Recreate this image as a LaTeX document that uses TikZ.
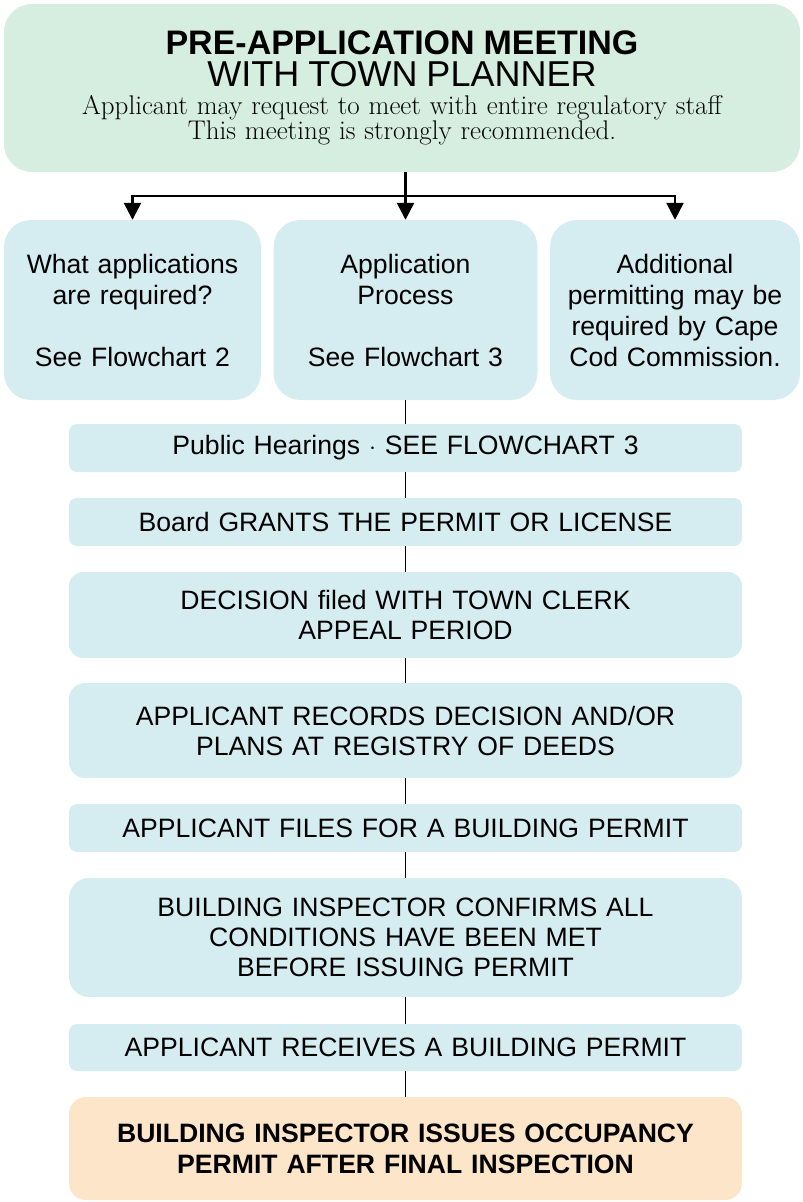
\documentclass[tikz,border=0pt]{standalone}
\usepackage{fontspec}
\setsansfont{Liberation Sans}
\usetikzlibrary{arrows.meta}
\definecolor{meetgreen}{HTML}{D5EEDF}
\definecolor{stepblue}{HTML}{D5EDF1}
\definecolor{permitorange}{HTML}{FDE5C9}
\begin{document}
\begin{tikzpicture}[x=1pt,y=-1pt,stage/.style={shape=rectangle,fill=stepblue,rounded corners=8pt,inner sep=0pt,minimum width=673pt,minimum height=48pt,text width=660pt,align=center,font=\sffamily\fontsize{26.6}{30}\selectfont},choice/.style={stage,rounded corners=27pt,minimum height=180pt,font=\sffamily\fontsize{26.6}{31}\selectfont},link/.style={line width=1.4pt},fork/.style={line width=2.5pt},forkarrow/.style={fork,-{Triangle[width=17pt,length=17pt]}}]
\def\cx{405.5};
\def\cy{310};
\useasboundingbox (0,0) rectangle (803,1202);

\node[stage,fill=meetgreen,rounded corners=28pt,minimum width=796pt,minimum height=168pt,text width=790pt] (meet) at (402,88) {{\bfseries\fontsize{34}{31}\selectfont PRE-APPLICATION MEETING\par}{\fontsize{36}{32}\selectfont WITH TOWN PLANNER\par}\vskip3pt{\rmfamily\fontsize{27}{25}\selectfont Applicant may request to meet with entire regulatory staff\\ This meeting is strongly recommended.\par}};

\node[choice,minimum width=257pt,text width=245pt] (what) at (132.5,\cy) {What applications\\ are required?\\[31pt] See Flowchart 2};
\node[choice,minimum width=264pt,text width=250pt] (proc) at (\cx,\cy) {Application\\ Process\\[31pt] See Flowchart 3};
\node[choice,minimum width=250pt,text width=240pt] (cape) at (675,\cy) {Additional\\ permitting may be\\ required by Cape\\ Cod Commission.};

\coordinate (split) at (\cx,196);
\draw[fork] (meet.south -| split) -- (split);
\draw[forkarrow] (split) -| (what.north);
\draw[forkarrow] (split) -- (proc.north);
\draw[forkarrow] (split) -| (cape.north);

\node[stage] (hear) at (\cx,448) {Public Hearings $\cdot$ SEE FLOWCHART 3};
\draw[link] (proc.south) -- (hear.north);
\node[stage] (grant) at (\cx,522) {Board GRANTS THE PERMIT OR LICENSE};
\draw[link] (hear.south) -- (grant.north);
\node[stage,rounded corners=14pt,minimum height=86pt] (clerk) at (\cx,615) {DECISION filed WITH TOWN CLERK\\ APPEAL PERIOD};
\draw[link] (grant.south) -- (clerk.north);
\node[stage,rounded corners=16pt,minimum height=95pt] (deeds) at (\cx,730.5) {APPLICANT RECORDS DECISION AND/OR\\ PLANS AT REGISTRY OF DEEDS};
\draw[link] (clerk.south) -- (deeds.north);
\node[stage] (files) at (\cx,828) {APPLICANT FILES FOR A BUILDING PERMIT};
\draw[link] (deeds.south) -- (files.north);
\node[stage,rounded corners=20pt,minimum height=119pt] (confirm) at (\cx,937.5) {BUILDING INSPECTOR CONFIRMS ALL\\ CONDITIONS HAVE BEEN MET\\ BEFORE ISSUING PERMIT};
\draw[link] (files.south) -- (confirm.north);
\node[stage,minimum height=47pt] (receive) at (\cx,1047.5) {APPLICANT RECEIVES A BUILDING PERMIT};
\draw[link] (confirm.south) -- (receive.north);
\node[stage,fill=permitorange,rounded corners=17pt,minimum height=103pt,font=\sffamily\bfseries\fontsize{26.6}{31}\selectfont] (occupy) at (\cx,1148.5) {BUILDING INSPECTOR ISSUES OCCUPANCY\\ PERMIT AFTER FINAL INSPECTION};
\draw[link] (receive.south) -- (occupy.north);
\end{tikzpicture}
\end{document}
